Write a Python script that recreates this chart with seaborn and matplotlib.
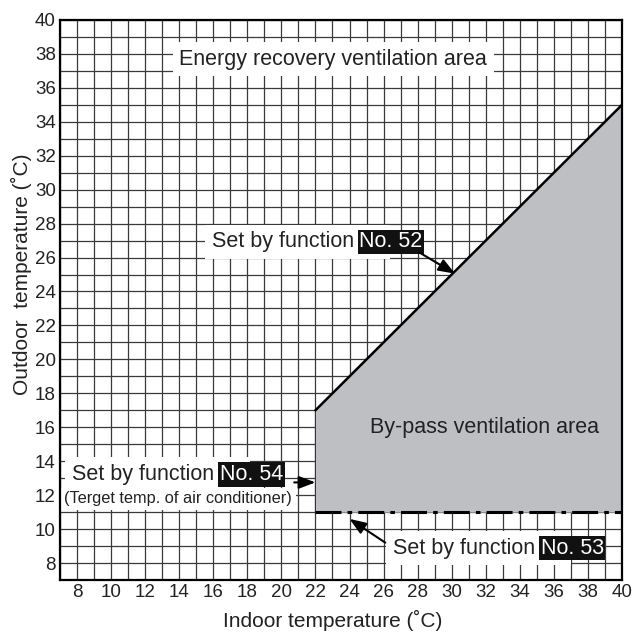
import matplotlib
matplotlib.use("Agg")
import matplotlib.pyplot as plt
import seaborn as sns
import pandas as pd

# Ventilation switching chart: indoor vs outdoor temperature (deg C)
AXIS_MIN, AXIS_MAX = 7, 40
TICKS = list(range(8, 41, 2))

# Upper limit set by function No. 52 (diagonal)
upper_indoor = [22, 40]
upper_outdoor = [17, 35]
# Lower limit set by function No. 53 (outdoor temp)
lower_indoor = [22, 40]
lower_outdoor = [11, 11]
# Target temperature set by function No. 54 (indoor temp)
target_indoor = [22, 22]
target_outdoor = [11, 17]

FONT = "Liberation Sans"

sns.set_style("white")
plt.rcParams["font.family"] = [FONT, "DejaVu Sans"]

fig = plt.figure(figsize=(6.33, 6.34), dpi=100)
ax = fig.add_axes([0.0948, 0.0852, 0.8878, 0.8833])

# grid every 1 deg
ax.set_xticks(range(AXIS_MIN, AXIS_MAX + 1), minor=True)
ax.set_yticks(range(AXIS_MIN, AXIS_MAX + 1), minor=True)
ax.set_xticks(TICKS)
ax.set_yticks(TICKS)
ax.grid(True, which="both", color="#3a3a3a", linewidth=0.9, zorder=0)
ax.set_axisbelow(True)
ax.tick_params(which="both", length=0, labelsize=13.5, pad=3, colors="#222222")

# by-pass area
ax.fill_between(upper_indoor, lower_outdoor, upper_outdoor,
                color="#bebfc3", linewidth=0, zorder=2)

upper = pd.DataFrame({"indoor": upper_indoor, "outdoor": upper_outdoor})
lower = pd.DataFrame({"indoor": lower_indoor, "outdoor": lower_outdoor})
target = pd.DataFrame({"indoor": target_indoor, "outdoor": target_outdoor})

sns.lineplot(data=upper, x="indoor", y="outdoor", color="black",
             linewidth=1.8, ax=ax, zorder=3)
sns.lineplot(data=lower, x="indoor", y="outdoor", color="black",
             linewidth=2.2, linestyle=(0, (8.5, 2.0, 1.5, 2.0)), ax=ax, zorder=3)
sns.lineplot(data=target, x="indoor", y="outdoor", color="black",
             linewidth=2.4, linestyle=(0, (3.6, 1.8)), ax=ax, zorder=3)

ax.set_xlim(AXIS_MIN, AXIS_MAX)
ax.set_ylim(AXIS_MIN, AXIS_MAX)
for s in ax.spines.values():
    s.set_color("black")
    s.set_linewidth(1.6)
    s.set_zorder(5)

ax.set_xlabel("Indoor temperature (˚C)", fontsize=15, labelpad=6, color="#222222")
ax.set_ylabel("Outdoor  temperature (˚C)", fontsize=15, labelpad=5, color="#222222")
ax.xaxis.label.set_x(0.486)
ax.yaxis.set_label_coords(-0.05, 0.546)

TXT = 15.5
white_box = dict(boxstyle="square,pad=0.3", facecolor="white", edgecolor="none")
black_box = dict(boxstyle="square,pad=0.08", facecolor="#111111", edgecolor="none")

ax.text(23.05, 37.7, "Energy recovery ventilation area", fontsize=TXT,
        ha="center", va="center", color="#222222", bbox=white_box, zorder=4)
ax.text(31.9, 16.0, "By-pass ventilation area", fontsize=TXT,
        ha="center", va="center", color="#222222", zorder=4)


def set_by(x, y, number):
    t1 = ax.text(x, y, "Set by function", fontsize=TXT, ha="left",
                 va="baseline", color="#222222", bbox=white_box, zorder=4)
    ax.annotate("    ", xy=(1, 0), xycoords=t1, xytext=(4, 0),
                textcoords="offset points", fontsize=TXT, va="bottom",
                bbox=white_box, zorder=4)
    ax.annotate(number, xy=(1, 0), xycoords=t1, xytext=(4, 0),
                textcoords="offset points", fontsize=TXT, va="bottom",
                color="white", bbox=black_box, zorder=5)


set_by(15.9, 26.6, "No. 52")
set_by(7.7, 12.9, "No. 54")
set_by(26.55, 8.55, "No. 53")
ax.text(13.95, 11.78, "(Terget temp. of air conditioner)", fontsize=11.8,
        ha="center", va="center", color="#222222",
        bbox=dict(boxstyle="square,pad=0.2", facecolor="white", edgecolor="none"),
        zorder=4)

arrow = dict(arrowstyle="-|>,head_length=1.0,head_width=0.38", color="black",
             linewidth=1.5, shrinkA=0, shrinkB=0)
ax.annotate("", xy=(30.2, 25.05), xytext=(28.1, 26.3), arrowprops=arrow, zorder=6)
ax.annotate("", xy=(22.0, 12.75), xytext=(20.75, 12.75), arrowprops=arrow, zorder=6)
ax.annotate("", xy=(24.0, 10.6), xytext=(26.1, 9.2), arrowprops=arrow, zorder=6)

fig.savefig("out.png", dpi=100)
